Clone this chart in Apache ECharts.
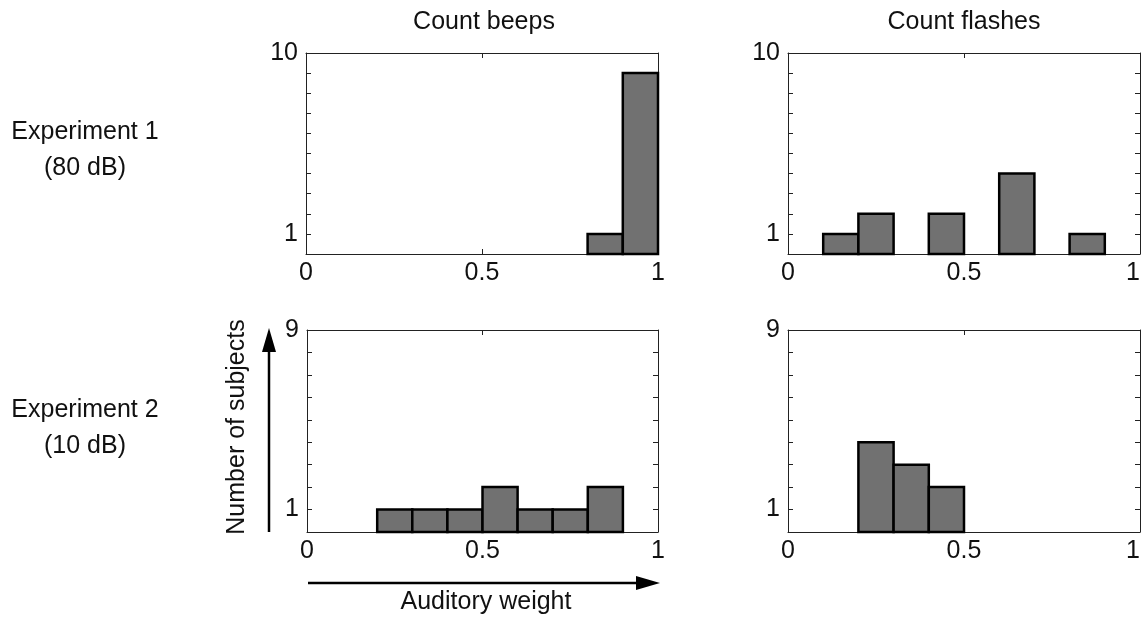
<!DOCTYPE html>
<html>
<head>
<meta charset="utf-8">
<title>Auditory weight histograms</title>
<script src="https://cdn.jsdelivr.net/npm/echarts@6/dist/echarts.min.js"></script>
<style>
  html, body { margin: 0; padding: 0; background: #fff; }
  #chart { width: 1148px; height: 623px; }
</style>
</head>
<body>
<div id="chart"></div>
<script>
// bin edges of the auditory weight histograms
const binEdges = [0, 0.1, 0.2, 0.3, 0.4, 0.5, 0.6, 0.7, 0.8, 0.9, 1.0]
// number of subjects per bin
const beepsExp1 = [0, 0, 0, 0, 0, 0, 0, 0, 1, 9]
const flashesExp1 = [0, 1, 2, 0, 2, 0, 4, 0, 1, 0]
const beepsExp2 = [0, 0, 1, 1, 1, 2, 1, 1, 2, 0]
const flashesExp2 = [0, 0, 4, 3, 2, 0, 0, 0, 0, 0]

const colTitles = ['Count beeps', 'Count flashes']
const rowTitles = ['Experiment 1\n(80 dB)', 'Experiment 2\n(10 dB)']
const yMaxes = [10, 9]

const font = 'Liberation Sans'
const panels = [
  { counts: beepsExp1, yMax: yMaxes[0], right: false, grid: { left: 306, top: 53, width: 352, height: 201 } },
  { counts: flashesExp1, yMax: yMaxes[0], right: true, grid: { left: 788, top: 53, width: 352, height: 201 } },
  { counts: beepsExp2, yMax: yMaxes[1], right: false, grid: { left: 307, top: 330, width: 351, height: 202 } },
  { counts: flashesExp2, yMax: yMaxes[1], right: true, grid: { left: 788, top: 330, width: 352, height: 202 } }
]

function toBins (counts) {
  let out = []
  counts.forEach((c, i) => {
    if (c > 0) out.push([binEdges[i], binEdges[i + 1], c])
  })
  return out
}

function renderBar (params, api) {
  let p0 = api.coord([api.value(0), 0])
  let p1 = api.coord([api.value(1), api.value(2)])
  return {
    type: 'rect',
    shape: { x: p0[0], y: p1[1], width: p1[0] - p0[0], height: p0[1] - p1[1] },
    style: { fill: '#717171', stroke: '#000', lineWidth: 2.5 }
  }
}

let grids = []
let xAxes = []
let yAxes = []
let series = []
const lineStyle = { color: '#222', width: 1 }
const axisLine = { show: true, onZero: false, lineStyle: lineStyle }
const axisTick = { show: true, inside: true, length: 5, lineStyle: lineStyle }

panels.forEach((p, i) => {
  grids.push(Object.assign({ show: false }, p.grid))
  // bottom and top x axes
  xAxes.push({
    gridIndex: i, type: 'value', min: 0, max: 1, interval: 0.5, position: 'bottom',
    axisLine: axisLine,
    axisTick: axisTick,
    axisLabel: { color: '#111', fontFamily: font, fontSize: 25, margin: 7, alignMaxLabel: p.right ? 'right' : null },
    splitLine: { show: false }
  })
  xAxes.push({
    gridIndex: i, type: 'value', min: 0, max: 1, interval: 0.5, position: 'top',
    axisLine: axisLine,
    axisTick: axisTick,
    axisLabel: { show: false },
    splitLine: { show: false }
  })
  // left and right y axes
  yAxes.push({
    gridIndex: i, type: 'value', min: 0, max: p.yMax, interval: 1, position: 'left',
    axisLine: axisLine,
    axisTick: axisTick,
    axisLabel: {
      color: '#111', fontFamily: font, fontSize: 25, margin: 8,
      formatter: v => (v === 1 || v === p.yMax) ? String(v) : ''
    },
    splitLine: { show: false }
  })
  yAxes.push({
    gridIndex: i, type: 'value', min: 0, max: p.yMax, interval: 1, position: 'right',
    axisLine: axisLine,
    axisTick: axisTick,
    axisLabel: { show: false },
    splitLine: { show: false }
  })
  series.push({
    type: 'custom',
    xAxisIndex: i * 2,
    yAxisIndex: i * 2,
    renderItem: renderBar,
    data: toBins(p.counts),
    z: 3
  })
})

function label (text, x, y, extra) {
  return Object.assign({
    type: 'text', x: x, y: y,
    style: { text: text, fill: '#111', font: '25px "' + font + '"', align: 'center', verticalAlign: 'middle', lineHeight: 36 }
  }, extra || {})
}

let graphics = [
  label(colTitles[0], 484, 22),
  label(colTitles[1], 964, 22),
  label(rowTitles[0], 85, 150),
  label(rowTitles[1], 85, 428),
  label('Number of subjects', 237, 427, { rotation: Math.PI / 2 }),
  label('Auditory weight', 486, 602),
  // vertical arrow
  { type: 'line', shape: { x1: 269, y1: 532, x2: 269, y2: 348 }, style: { stroke: '#000', lineWidth: 2.5 } },
  { type: 'polygon', shape: { points: [[262, 352], [276, 352], [269, 328]] }, style: { fill: '#000' } },
  // horizontal arrow
  { type: 'line', shape: { x1: 308, y1: 583, x2: 640, y2: 583 }, style: { stroke: '#000', lineWidth: 2.5 } },
  { type: 'polygon', shape: { points: [[636, 576], [636, 590], [660, 583]] }, style: { fill: '#000' } }
]

let myChart = echarts.init(document.getElementById('chart'))
myChart.setOption({
  animation: false,
  backgroundColor: '#fff',
  textStyle: { fontFamily: font },
  grid: grids,
  xAxis: xAxes,
  yAxis: yAxes,
  series: series,
  graphic: graphics
})
</script>
</body>
</html>
